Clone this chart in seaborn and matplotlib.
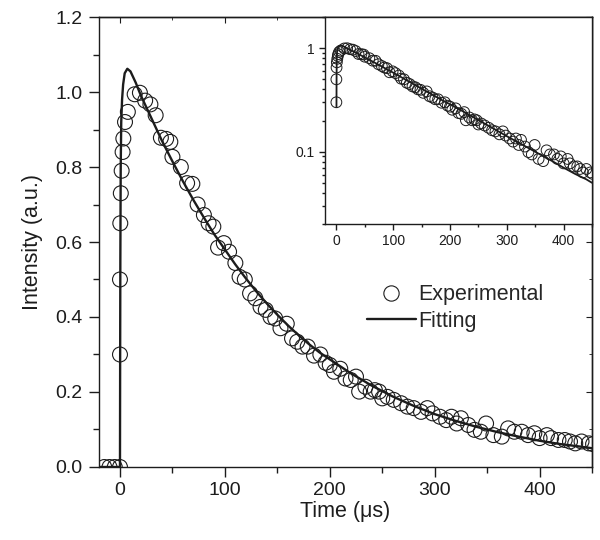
import numpy as np
import matplotlib
matplotlib.use('Agg')
import matplotlib.pyplot as plt
from matplotlib.lines import Line2D
from matplotlib.ticker import MultipleLocator, LogLocator, NullFormatter, FuncFormatter
import seaborn as sns

# experimental decay (time in us, normalised intensity)
t_exp = [-15, -10, -5, 0, 0, 0, 0.3, 0.8, 1.6, 2.5, 3.2, 4.8, 7.5,
         14, 19, 24, 29, 34, 39, 44, 48, 50, 58, 64, 69, 74, 80, 84.5, 89, 93.5,
         99, 104, 110, 114, 119, 124, 129, 134, 139, 143.5, 148, 153, 159, 164,
         169, 174, 179, 185, 191, 196, 200, 204, 210, 215, 220, 225, 228, 234,
         239, 243, 247, 250, 255, 261, 268, 274, 280, 287, 293, 298, 305, 311,
         316, 321, 325, 332, 338, 344, 349, 356, 364, 370, 376, 383, 389, 395,
         400, 407, 411, 418, 424, 429, 434, 440, 447, 451]
i_exp = [0, 0, 0, 0, 0.30, 0.50, 0.65, 0.73, 0.79, 0.84, 0.876, 0.92, 0.947,
         0.994, 0.998, 0.977, 0.967, 0.938, 0.878, 0.875, 0.867, 0.827, 0.80, 0.757, 0.755, 0.70, 0.672, 0.65, 0.641, 0.585,
         0.597, 0.574, 0.544, 0.507, 0.50, 0.463, 0.45, 0.427, 0.419, 0.40, 0.396, 0.37, 0.382, 0.343,
         0.334, 0.321, 0.321, 0.297, 0.30, 0.278, 0.272, 0.254, 0.262, 0.236, 0.232, 0.241, 0.201, 0.214,
         0.201, 0.205, 0.201, 0.183, 0.187, 0.179, 0.17, 0.161, 0.157, 0.147, 0.157, 0.143, 0.134, 0.125,
         0.134, 0.116, 0.13, 0.112, 0.099, 0.094, 0.116, 0.085, 0.081, 0.103, 0.094, 0.094, 0.085, 0.09,
         0.077, 0.085, 0.077, 0.072, 0.072, 0.068, 0.063, 0.068, 0.063, 0.061]

# fitted curve
t_fit = [-20, 0, 0.15, 0.35, 0.7, 1.2, 2, 3, 4.5, 7, 10, 15, 20, 30, 40, 50, 60, 70,
         80, 90, 100, 110, 120, 130, 140, 150, 160, 170, 180, 190, 200, 220, 240,
         260, 280, 300, 320, 340, 360, 380, 400, 420, 440, 450]
i_fit = [0, 0, 0.27, 0.55, 0.80, 0.92, 0.98, 1.02, 1.05, 1.062, 1.055, 1.025, 0.99, 0.93,
         0.87, 0.815, 0.762, 0.712, 0.665, 0.62, 0.58, 0.54, 0.503, 0.468, 0.436, 0.406,
         0.378, 0.352, 0.328, 0.306, 0.287, 0.25, 0.217, 0.188, 0.163, 0.141, 0.123,
         0.107, 0.093, 0.081, 0.07, 0.061, 0.054, 0.05]

sns.set_style('ticks')
plt.rcParams['font.family'] = ['Liberation Sans', 'DejaVu Sans']
plt.rcParams['axes.linewidth'] = 1.0

ink = '#1c1c1c'
fig = plt.figure(figsize=(6, 5.4), dpi=100)
ax = fig.add_axes([0.165, 0.1352, 0.8217, 0.8333])

sns.scatterplot(x=t_exp, y=i_exp, ax=ax, marker='o', s=115, facecolors='none',
                edgecolor=ink, linewidth=0.8, zorder=2)
sns.lineplot(x=t_fit, y=i_fit, ax=ax, color=ink, linewidth=1.7, sort=False,
             estimator=None, zorder=3)

ax.set_xlim(-20, 450)
ax.set_ylim(0, 1.2)
ax.xaxis.set_major_locator(MultipleLocator(100))
ax.xaxis.set_minor_locator(MultipleLocator(50))
ax.yaxis.set_major_locator(MultipleLocator(0.2))
ax.yaxis.set_minor_locator(MultipleLocator(0.1))
ax.yaxis.set_major_formatter(FuncFormatter(lambda v, p: f'{v:.1f}'))
ax.tick_params(which='major', direction='out', length=7, width=1, labelsize=14, colors=ink)
ax.tick_params(which='minor', direction='out', length=4, width=1, colors=ink)
ax.tick_params(axis='y', which='major', pad=5)
for s in ax.spines.values():
    s.set_visible(True)
    s.set_color(ink)

# inward ticks mirrored on top and right
top = ax.secondary_xaxis('top')
top.xaxis.set_major_locator(MultipleLocator(100))
top.xaxis.set_minor_locator(MultipleLocator(50))
top.tick_params(which='both', direction='in', labeltop=False, colors=ink)
top.tick_params(which='major', length=4)
top.tick_params(which='minor', length=2.5)
right = ax.secondary_yaxis('right')
right.yaxis.set_major_locator(MultipleLocator(0.2))
right.yaxis.set_minor_locator(MultipleLocator(0.1))
right.tick_params(which='both', direction='in', labelright=False, colors=ink)
right.tick_params(which='major', length=4)
right.tick_params(which='minor', length=2.5)

ax.set_xlabel('Time (\u03bcs)', fontsize=15.5, color=ink, labelpad=2)
ax.set_ylabel('Intensity (a.u.)', fontsize=15.5, color=ink, labelpad=9)

handles = [Line2D([], [], marker='o', linestyle='none', markersize=11, markerfacecolor='none',
                  markeredgecolor=ink, markeredgewidth=0.8),
           Line2D([], [], color=ink, linewidth=1.7)]
ax.legend(handles, ['Experimental', 'Fitting'], loc='center', bbox_to_anchor=(0.722, 0.353),
          frameon=False, fontsize=15.5, handlelength=2.3, handletextpad=0.1,
          labelspacing=0.25, borderpad=0)

# inset on log scale
axi = fig.add_axes([0.5417, 0.5852, 0.445, 0.3833])
t_pos = [t for t, v in zip(t_exp, i_exp) if v > 0]
i_pos = [v for v in i_exp if v > 0]
tf_pos = [t for t, v in zip(t_fit, i_fit) if v > 0]
if_pos = [v for v in i_fit if v > 0]
sns.scatterplot(x=t_pos, y=i_pos, ax=axi, marker='o', s=60, facecolors='none',
                edgecolor=ink, linewidth=0.7, zorder=2)
sns.lineplot(x=tf_pos, y=if_pos, ax=axi, color=ink, linewidth=1.3, sort=False,
             estimator=None, zorder=3)
axi.set_yscale('log')
axi.set_xlim(-20, 450)
axi.set_ylim(0.02, 2)
axi.xaxis.set_major_locator(MultipleLocator(100))
axi.xaxis.set_minor_locator(MultipleLocator(50))
axi.yaxis.set_major_locator(LogLocator(base=10, numticks=10))
axi.yaxis.set_minor_locator(LogLocator(base=10, subs=np.arange(2, 10), numticks=10))
axi.yaxis.set_major_formatter(FuncFormatter(lambda v, p: f'{v:g}'))
axi.yaxis.set_minor_formatter(NullFormatter())
axi.tick_params(which='major', direction='out', length=4, width=1, labelsize=10, colors=ink)
axi.tick_params(which='minor', direction='out', length=2.5, width=1, colors=ink)
for s in axi.spines.values():
    s.set_visible(True)
    s.set_color(ink)

fig.savefig('out.png', dpi=100)
